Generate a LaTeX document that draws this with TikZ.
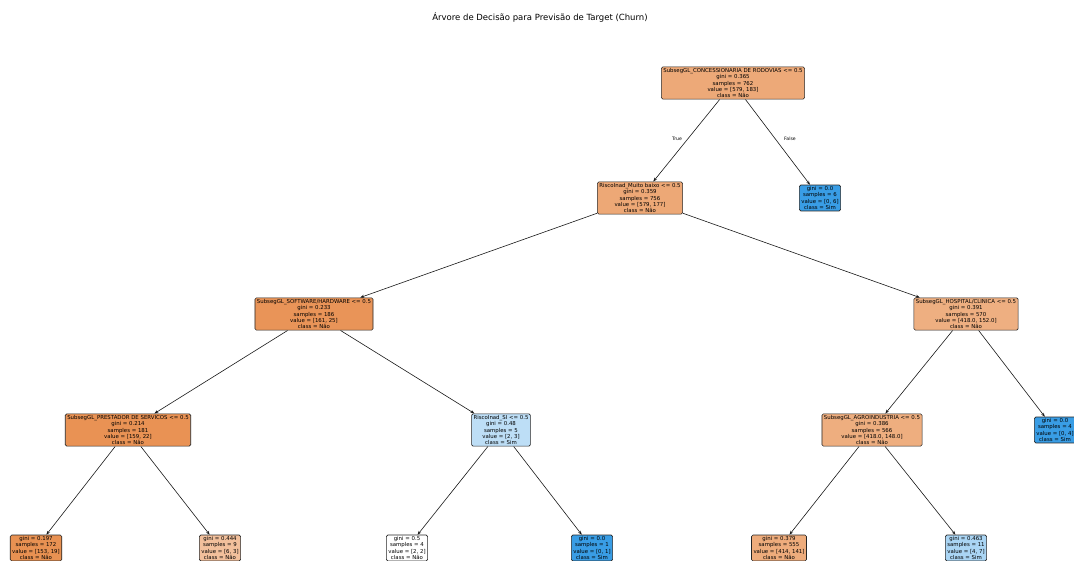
\documentclass[tikz,border=0pt]{standalone}
\usepackage{fontspec}
\setmainfont{DejaVu Sans}
\usetikzlibrary{arrows.meta}
\definecolor{c0}{RGB}{237,169,120}
\definecolor{c1}{RGB}{237,168,118}
\definecolor{c3}{RGB}{233,148,88}
\definecolor{c4}{RGB}{238,175,129}
\definecolor{c5}{RGB}{233,146,84}
\definecolor{c6}{RGB}{189,222,246}
\definecolor{c7}{RGB}{238,174,127}
\definecolor{cb}{RGB}{57,157,229}
\definecolor{l1}{RGB}{232,145,82}
\definecolor{l2}{RGB}{242,192,156}
\definecolor{l5}{RGB}{238,172,124}
\definecolor{l6}{RGB}{170,213,244}
\tikzset{
  tnode/.style={draw=black!85, line width=0.6pt, rounded corners=1.5pt, align=center,
    font=\fontsize{5.4}{6.4}\selectfont, inner xsep=2pt, inner ysep=1.3pt, text=black},
  edge/.style={line width=0.6pt, draw=black!90, -{Stealth[length=4pt,width=3pt]}},
  elab/.style={font=\fontsize{4.6}{5}\selectfont, text=black}
}
\begin{document}
\begin{tikzpicture}[x=1pt,y=-1pt]
\useasboundingbox (0,0) rectangle (1074,560);
\clip (0,0) rectangle (1074,560);
\fill[white] (0,0) rectangle (1074,560);
\node[font=\fontsize{8.5}{10}\selectfont] (title) at (540,17) {Árvore de Decisão para Previsão de Target (Churn)};

\node[tnode, fill=c0] (n0) at (733,83) {SubsegGL\_CONCESSIONARIA DE RODOVIAS <= 0.5\\gini = 0.365\\samples = 762\\value = [579, 183]\\class = Não};
\node[tnode, fill=c1] (n1) at (640,198) {RiscoInad\_Muito baixo <= 0.5\\gini = 0.359\\samples = 756\\value = [579, 177]\\class = Não};
\node[tnode, fill=cb] (n2) at (820,198) {gini = 0.0\\samples = 6\\value = [0, 6]\\class = Sim};
\node[tnode, fill=c3] (n3) at (314,314) {SubsegGL\_SOFTWARE/HARDWARE <= 0.5\\gini = 0.233\\samples = 186\\value = [161, 25]\\class = Não};
\node[tnode, fill=c4] (n4) at (966,314) {SubsegGL\_HOSPITAL/CLINICA <= 0.5\\gini = 0.391\\samples = 570\\value = [418.0, 152.0]\\class = Não};
\node[tnode, fill=c5] (n5) at (128,430) {SubsegGL\_PRESTADOR DE SERVICOS <= 0.5\\gini = 0.214\\samples = 181\\value = [159, 22]\\class = Não};
\node[tnode, fill=c6] (n6) at (501,430) {RiscoInad\_SI <= 0.5\\gini = 0.48\\samples = 5\\value = [2, 3]\\class = Sim};
\node[tnode, fill=c7] (n7) at (872,430) {SubsegGL\_AGROINDUSTRIA <= 0.5\\gini = 0.386\\samples = 566\\value = [418.0, 148.0]\\class = Não};
\node[tnode, fill=cb] (n8) at (1055,430) {gini = 0.0\\samples = 4\\value = [0, 4]\\class = Sim};

\node[tnode, fill=l1] (l1) at (36,548) {gini = 0.197\\samples = 172\\value = [153, 19]\\class = Não};
\node[tnode, fill=l2] (l2) at (220,548) {gini = 0.444\\samples = 9\\value = [6, 3]\\class = Não};
\node[tnode, fill=white] (l3) at (407,548) {gini = 0.5\\samples = 4\\value = [2, 2]\\class = Não};
\node[tnode, fill=cb] (l4) at (592,548) {gini = 0.0\\samples = 1\\value = [0, 1]\\class = Sim};
\node[tnode, fill=l5] (l5) at (779,548) {gini = 0.379\\samples = 555\\value = [414, 141]\\class = Não};
\node[tnode, fill=l6] (l6) at (966,548) {gini = 0.463\\samples = 11\\value = [4, 7]\\class = Sim};

\draw[edge] (n0) -- (n1);
\draw[edge] (n0) -- (n2);
\draw[edge] (n1) -- (n3);
\draw[edge] (n1) -- (n4);
\draw[edge] (n3) -- (n5);
\draw[edge] (n3) -- (n6);
\draw[edge] (n4) -- (n7);
\draw[edge] (n4) -- (n8);
\draw[edge] (n5) -- (l1);
\draw[edge] (n5) -- (l2);
\draw[edge] (n6) -- (l3);
\draw[edge] (n6) -- (l4);
\draw[edge] (n7) -- (l5);
\draw[edge] (n7) -- (l6);

\node[elab] (t) at (677,139) {True};
\node[elab] (f) at (790,139) {False};
\end{tikzpicture}
\end{document}
